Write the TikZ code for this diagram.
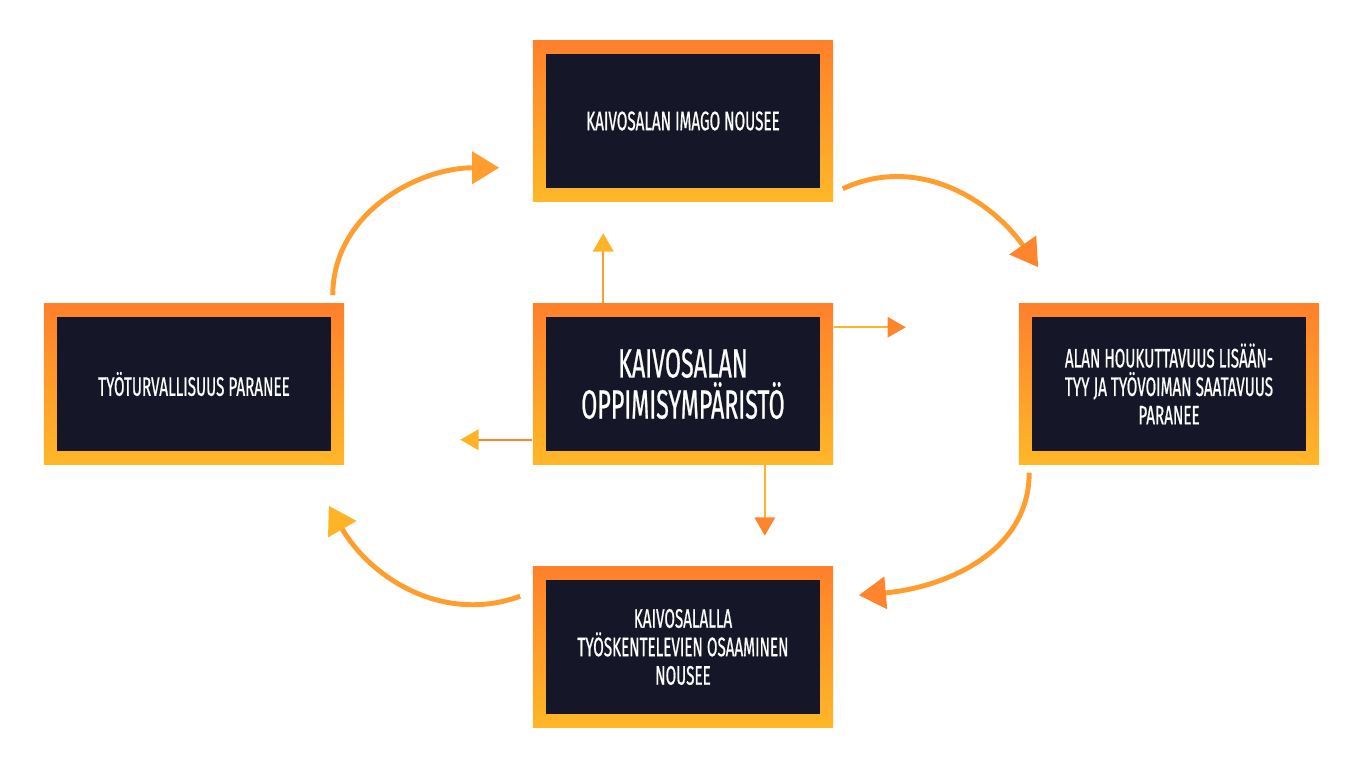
\documentclass[tikz,border=0pt]{standalone}
\usepackage{fontspec}
\setmainfont[FakeStretch=0.57,FakeBold=0.6]{Fira Sans}
\usetikzlibrary{arrows.meta}
\definecolor{boxtop}{RGB}{255,128,42}
\definecolor{boxbot}{RGB}{255,183,40}
\definecolor{boxin}{RGB}{21,22,39}
\definecolor{arrY}{RGB}{255,180,40}
\definecolor{arrM}{RGB}{255,158,46}
\definecolor{arrO}{RGB}{255,132,46}
\begin{document}
\begin{tikzpicture}[x=0.01cm,y=0.01cm,
  stage/.style={minimum width=3cm,minimum height=1.6cm,inner sep=0pt,
    top color=boxtop,bottom color=boxbot,text=white,align=center,
    font=\fontsize{7.6}{8.1}\selectfont,
    path picture={\fill[boxin]
      ([shift={(13,13)}]path picture bounding box.south west) rectangle
      ([shift={(-13,-13)}]path picture bounding box.north east);}},
  cycarrow/.style 2 args={line width=1.4pt,draw=#1,
    -{Triangle[length=7.7pt,width=9pt,color=#2]}},
  spoke/.style 2 args={line width=0.6pt,draw=#1,
    -{Triangle[length=5.2pt,width=5.8pt,color=#2]}}]
\useasboundingbox (0,0) rectangle (1366,768);

% The boxes
\node[stage] (image) at (683,647) {KAIVOSALAN IMAGO NOUSEE};
\node[stage] (safety) at (194,384) {TYÖTURVALLISUUS PARANEE};
\node[stage,font=\fontsize{11.6}{11.7}\selectfont] (env) at (683,384)
  {KAIVOSALAN\\OPPIMISYMPÄRISTÖ};
\node[stage] (appeal) at (1169,384)
  {ALAN HOUKUTTAVUUS LISÄÄN-\\TYY JA TYÖVOIMAN SAATAVUUS\\PARANEE};
\node[stage] (skill) at (683,121)
  {KAIVOSALALLA\\TYÖSKENTELEVIEN OSAAMINEN\\NOUSEE};

% The cycle
\draw[cycarrow={arrM}{arrM}] ([shift={(-12,8)}]safety.north east)
  to[out=90,in=180] ([shift={(-33,34)}]image.south west);
\draw[cycarrow={arrM}{arrO}] ([shift={(9,13)}]image.south east)
  to[out=25,in=125] ([shift={(20,36)}]appeal.north west);
\draw[cycarrow={arrM}{arrO}] ([shift={(11,-8)}]appeal.south west)
  to[out=-90,in=5] ([shift={(25,-29)}]skill.north east);
\draw[cycarrow={arrM}{arrY}] ([shift={(-12,-30)}]skill.north west)
  to[out=200,in=-60] ([shift={(-16,-41)}]safety.south east);

% The spokes
\draw[spoke={arrM}{arrY}] ([shift={(71,0)}]env.north west) -- ++(0,70);
\draw[spoke={arrY}{arrO}] ([shift={(0,-24)}]env.north east) -- ++(72,0);
\draw[spoke={arrO}{arrY}] ([shift={(0,25)}]env.south west) -- ++(-72,0);
\draw[spoke={arrY}{arrO}] ([shift={(-69,0)}]env.south east) -- ++(0,-71);
\end{tikzpicture}
\end{document}
